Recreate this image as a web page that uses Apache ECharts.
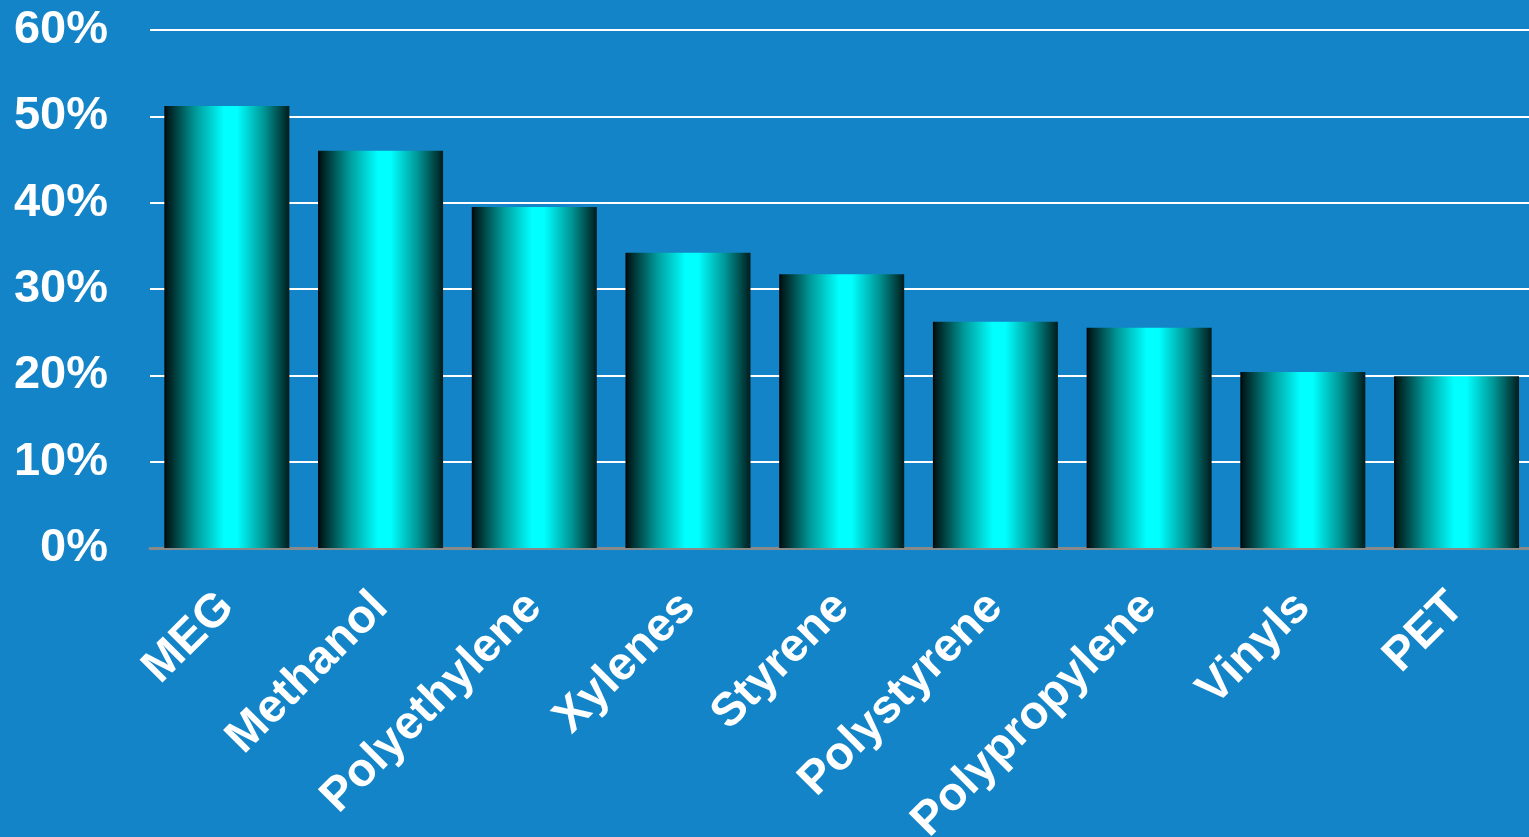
<!DOCTYPE html>
<html><head><meta charset="utf-8">
<script src="https://cdn.jsdelivr.net/npm/echarts@6/dist/echarts.min.js"></script>
<style>html,body{margin:0;padding:0;background:#1384c8;}#c{width:1529px;height:837px;}</style>
</head><body><div id="c"></div>
<script>
const categories = ['MEG','Methanol','Polyethylene','Xylenes','Styrene','Polystyrene','Polypropylene','Vinyls','PET'];
const values = [51.2, 46.0, 39.5, 34.2, 31.7, 26.2, 25.5, 20.4, 19.9];
const yTicks = [0, 10, 20, 30, 40, 50, 60];

const chart = echarts.init(document.getElementById('c'));
const barGrad = new echarts.graphic.LinearGradient(0, 0, 1, 0, [
  {offset: 0, color: '#000000'},
  {offset: 0.02, color: '#001818'},
  {offset: 0.25, color: '#009a9a'},
  {offset: 0.48, color: '#00ffff'},
  {offset: 0.58, color: '#00ffff'},
  {offset: 0.8, color: '#009494'},
  {offset: 1, color: '#001c1c'}
]);
chart.setOption({
  backgroundColor: '#1384c8',
  animation: false,
  grid: {left: 150, right: -4.4, top: 30, bottom: 289, containLabel: false, outerBoundsMode: 'none'},
  xAxis: {
    type: 'category', data: categories,
    axisLine: {lineStyle: {color: '#8a8a8a', width: 3}},
    axisTick: {show: false},
    axisLabel: {rotate: 45, margin: 52, interval: 0, color: '#ffffff', fontFamily: 'Liberation Sans, Arial, sans-serif', fontWeight: 'bold', fontSize: 47}
  },
  yAxis: {
    type: 'value', min: yTicks[0], max: yTicks[yTicks.length-1], interval: 10,
    axisLine: {show: false}, axisTick: {show: false},
    splitLine: {lineStyle: {color: '#ffffff', width: 2}},
    axisLabel: {margin: 42, color: '#ffffff', fontFamily: 'Liberation Sans, Arial, sans-serif', fontWeight: 'bold', fontSize: 47, formatter: v => v + '%'}
  },
  series: [{
    type: 'bar', data: values, barWidth: 125,
    itemStyle: {color: barGrad}
  }]
});
</script></body></html>
